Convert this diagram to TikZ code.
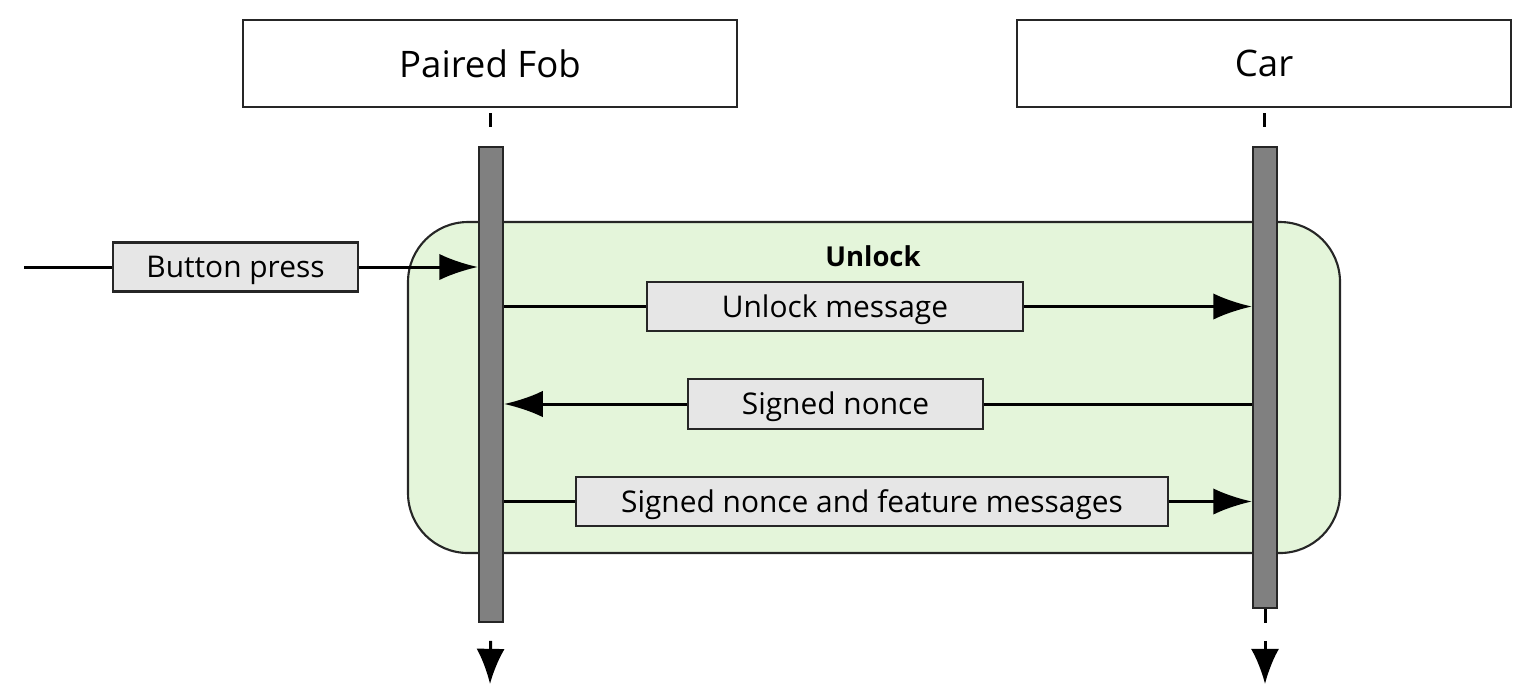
\documentclass[tikz,border=0pt]{standalone}
\usepackage{fontspec}
\setmainfont{Open Sans}
\usetikzlibrary{arrows.meta}
\definecolor{regionfill}{HTML}{E4F5DA}
\definecolor{boxfill}{HTML}{E6E6E6}
\definecolor{barfill}{HTML}{808080}
\definecolor{edge}{HTML}{262626}
\tikzset{
  actor/.style={draw=edge, line width=0.6pt, fill=white, minimum width=4.93cm, minimum height=0.87cm, font=\fontsize{10.4}{12}\selectfont},
  lifebar/.style={draw=edge, line width=0.6pt, fill=barfill, minimum width=0.24cm, inner sep=0pt},
  msgbox/.style={draw=edge, line width=0.6pt, fill=boxfill, minimum height=0.49cm, inner sep=0pt, text height=1.7ex, text depth=0.55ex, font=\fontsize{8.5}{10}\selectfont},
  msg/.style={line width=0.85pt, -{Latex[length=11pt,width=7.5pt]}},
  life/.style={line width=0.85pt, dash pattern=on 4pt off 12pt, dash phase=14.6pt},
  tail/.style={line width=0.85pt, dash pattern=on 4pt off 5pt on 40pt off 1pt, -{Latex[length=10pt,width=8pt]}}
}
\begin{document}
\begin{tikzpicture}[x=0.01cm, y=-0.01cm]
  \useasboundingbox (0,0) rectangle (1527,684);
  \node[actor] (fob) at (490,63.5) {Paired Fob};
  \node[actor] (car) at (1264,63.5) {Car};
  \coordinate (fobend) at (490,684);
  \coordinate (carend) at (1265,684);

  \draw[life] (fob.south) -- (fob.south |- 0,147);
  \draw[life] (car.south) -- (car.south |- 0,147);

  % unlock block
  \draw[draw=edge, line width=0.6pt, fill=regionfill, rounded corners=0.6cm] (408,222) rectangle (1340,553);
  \node[font=\bfseries\fontsize{7.8}{9}\selectfont] (unlock) at (873,256) {Unlock};

  \node[lifebar, minimum height=4.75cm] (fobbar) at (491,384.5) {};
  \node[lifebar, minimum height=4.61cm] (carbar) at (1265,377.5) {};
  \draw[tail, dash phase=4pt] (fobbar.south) -- (fobend);
  \draw[tail] (carbar.south) -- (carend);

  \coordinate (bstart) at (24,267);
  \node[msgbox, minimum width=2.45cm] (bp) at (235.5,267) {Button press};
  \draw[line width=0.85pt] (bstart) -- (bp.west);
  \draw[msg] (bp.east) -- (fobbar.west |- bp);

  \node[msgbox, minimum width=3.76cm] (um) at (835,306.5) {Unlock message};
  \draw[line width=0.85pt] (fobbar.east |- um) -- (um.west);
  \draw[msg] (um.east) -- (carbar.west |- um);

  \node[msgbox, minimum width=2.95cm, minimum height=0.5cm] (sn) at (835.5,404) {Signed nonce};
  \draw[line width=0.85pt] (carbar.west |- sn) -- (sn.east);
  \draw[msg] (sn.west) -- (fobbar.east |- sn);

  \node[msgbox, minimum width=5.92cm] (sf) at (872,501.5) {Signed nonce and feature messages};
  \draw[line width=0.85pt] (fobbar.east |- sf) -- (sf.west);
  \draw[msg] (sf.east) -- (carbar.west |- sf);
\end{tikzpicture}
\end{document}
